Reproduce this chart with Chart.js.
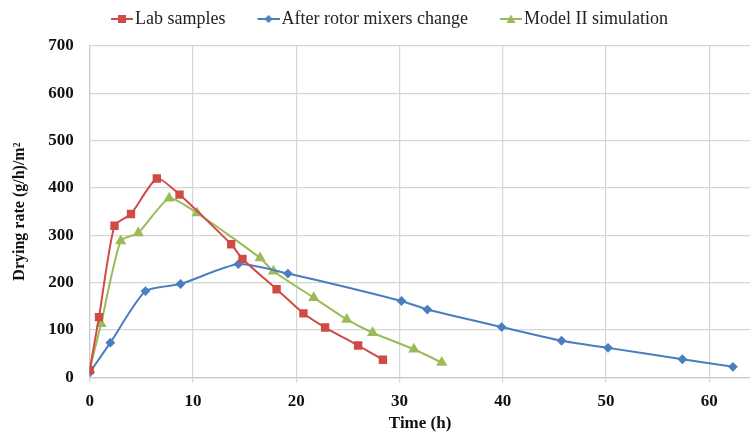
<!DOCTYPE html>
<html>
<head>
<meta charset="utf-8">
<script src="https://cdn.jsdelivr.net/npm/chart.js@4.4.1/dist/chart.umd.min.js"></script>
<style>
  html, body { margin: 0; padding: 0; background: #fff; overflow: hidden; }
  #wrap { width: 750px; height: 434px; overflow: hidden; }
  #chart { display: block; }
</style>
</head>
<body>
<div id="wrap"><canvas id="chart" width="757" height="434"></canvas></div>
<script>
// Values (time in h, drying rate in (g/h)/m2)
const labX = [0, 0.9, 2.4, 4.0, 6.5, 8.7, 13.7, 14.8, 18.1, 20.7, 22.8, 26.0, 28.4];
const labY = [15, 127, 320, 345, 420, 386, 281, 250, 186, 135, 105, 67, 37];

const rotorX = [0, 2.0, 5.4, 8.8, 14.4, 19.2, 30.2, 32.7, 39.9, 45.7, 50.2, 57.4, 62.3];
const rotorY = [10, 73, 182, 197, 239, 219, 161, 143, 106, 77, 62, 38, 22];

const modelX = [0, 1.1, 3.0, 4.7, 7.7, 10.4, 16.5, 17.8, 21.7, 24.9, 27.4, 31.4, 34.1];
const modelY = [16, 113, 288, 305, 378, 347, 252, 224, 168, 122, 94, 59, 31];

const seriesNames = ['Lab samples', 'After rotor mixers change', 'Model II simulation'];
const xTicks = [0, 10, 20, 30, 40, 50, 60];
const yTicks = [0, 100, 200, 300, 400, 500, 600, 700];

const colors = ['#d24a45', '#4a7ebf', '#9bbb59'];
const styles = ['rect', 'rectRot', 'triangle'];

function pts(xs, ys) {
  return xs.map((x, i) => ({ x: x, y: ys[i] }));
}

// line+marker swatch for the legend; the left part is transparent so the
// swatch sits close to its text, with a wider gap to the previous item
function swatch(color, style) {
  let c = document.createElement('canvas');
  c.width = 51; c.height = 12;
  let g = c.getContext('2d');
  let x0 = 29, cx = 40, cy = 6;
  g.strokeStyle = color; g.fillStyle = color; g.lineWidth = 2;
  g.beginPath(); g.moveTo(x0, cy); g.lineTo(51, cy); g.stroke();
  g.beginPath();
  if (style === 'rect') g.rect(cx - 4, cy - 4, 8, 8);
  else if (style === 'rectRot') { g.moveTo(cx, cy - 4); g.lineTo(cx + 4, cy); g.lineTo(cx, cy + 4); g.lineTo(cx - 4, cy); }
  else { g.moveTo(cx, cy - 4.5); g.lineTo(cx + 4.5, cy + 4); g.lineTo(cx - 4.5, cy + 4); }
  g.closePath(); g.fill();
  return c;
}

// extra room under the legend, so the plot starts a bit lower
const legendGap = {
  id: 'legendGap',
  beforeInit(chart) {
    const fit = chart.legend.fit;
    chart.legend.fit = function() {
      fit.call(this);
      this.height += 8;
    };
  }
};

const serif = "'Liberation Serif', 'Times New Roman', serif";

const datasets = [pts(labX, labY), pts(rotorX, rotorY), pts(modelX, modelY)].map((d, i) => ({
  label: seriesNames[i],
  data: d,
  showLine: true,
  borderColor: colors[i],
  backgroundColor: colors[i],
  borderWidth: 2,
  pointStyle: styles[i],
  pointRadius: i === 1 ? 3.5 : 4.5,
  tension: 0.2
}));

new Chart(document.getElementById('chart').getContext('2d'), {
  type: 'scatter',
  data: { datasets: datasets },
  plugins: [legendGap],
  options: {
    responsive: false,
    animation: false,
    layout: { padding: { left: 0, right: 0, top: 0, bottom: 0 } },
    plugins: {
      tooltip: { enabled: false },
      legend: {
        position: 'top',
        labels: {
          font: { family: serif, size: 18 },
          color: '#222',
          usePointStyle: true,
          pointStyleWidth: 37,
          padding: 10,
          generateLabels: function(chart) {
            let items = Chart.defaults.plugins.legend.labels.generateLabels(chart);
            items.forEach((it, i) => { it.pointStyle = swatch(colors[i], styles[i]); });
            return items;
          }
        }
      }
    },
    scales: {
      x: {
        type: 'linear',
        min: 0,
        max: 64,
        afterBuildTicks: function(axis) {
          axis.ticks = xTicks.map(v => ({ value: v }));
        },
        afterFit: function(axis) {
          axis.height -= 7;
        },
        grid: { color: '#d6d6d6', lineWidth: 1.2, tickLength: 5 },
        border: { color: '#c8c8c8', width: 1.2 },
        ticks: { font: { family: serif, size: 17, weight: 'bold' }, color: '#111', padding: 9, maxRotation: 0 },
        title: { display: true, text: 'Time (h)', font: { family: serif, size: 17, weight: 'bold' }, color: '#111', padding: { top: 0, bottom: 0 } }
      },
      y: {
        min: 0,
        max: 700,
        afterBuildTicks: function(axis) {
          axis.ticks = yTicks.map(v => ({ value: v }));
        },
        grid: { color: '#d6d6d6', lineWidth: 1.2, drawTicks: false },
        border: { color: '#c8c8c8', width: 1.2 },
        ticks: { font: { family: serif, size: 17, weight: 'bold' }, color: '#111', padding: 16 },
        title: { display: true, text: 'Drying rate (g/h)/m²', font: { family: serif, size: 16, weight: 'bold' }, color: '#111', padding: { top: 10, bottom: 3 } }
      }
    }
  }
});
</script>
</body>
</html>
